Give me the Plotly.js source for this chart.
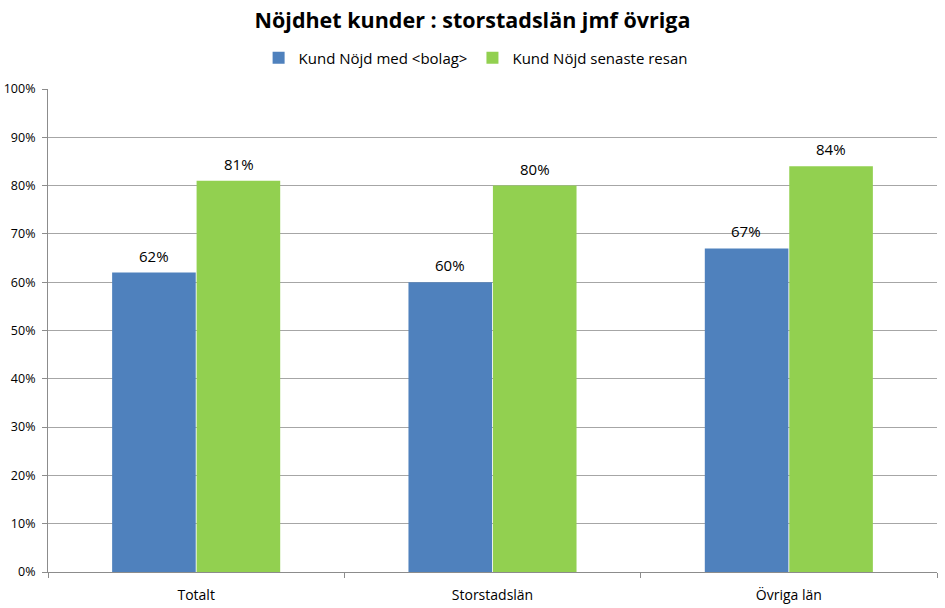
<!DOCTYPE html>
<html>
<head>
<meta charset="utf-8">
<script src="https://cdn.plot.ly/plotly-3.0.1.min.js"></script>
<style>html,body{margin:0;padding:0;background:#fff;}#chart{width:945px;height:608px;}</style>
</head>
<body>
<div id="chart"></div>
<script>
const categories = ["Totalt", "Storstadslän", "Övriga län"];
const seriesNames = ["Kund Nöjd med &lt;bolag&gt;", "Kund Nöjd senaste resan"];
const nojdMedBolag = [0.62, 0.60, 0.67];
const nojdSenasteResan = [0.81, 0.80, 0.84];
const yTickVals = [0, 0.1, 0.2, 0.3, 0.4, 0.5, 0.6, 0.7, 0.8, 0.9, 1.0];
const yTickText = ["0%", "10%", "20%", "30%", "40%", "50%", "60%", "70%", "80%", "90%", "100%"];

const FONT = "Open Sans, Noto Sans, sans-serif";
const colors = ["#4F81BD", "#92D050"];
const seriesValues = [nojdMedBolag, nojdSenasteResan];

function barTrace(name, values, color) {
  return {
    type: "bar",
    name: name,
    x: categories,
    y: values,
    marker: { color: color },
    hoverinfo: "skip"
  };
}

const data = seriesValues.map((v, i) => barTrace(seriesNames[i], v, colors[i]));

// value labels placed above each bar, offset to the bar's slot in the group
const annotations = [];
seriesValues.forEach((vals, si) => {
  vals.forEach((v, ci) => {
    annotations.push({
      x: categories[ci],
      y: v,
      xref: "x",
      yref: "y",
      text: Math.round(v * 100) + "%",
      showarrow: false,
      xanchor: "center",
      yanchor: "bottom",
      xshift: si === 0 ? -42.5 : 42.5,
      yshift: 5,
      font: { family: FONT, size: 15, color: "#000000" }
    });
  });
});

const layout = {
  width: 945,
  height: 608,
  margin: { l: 48, r: 8, t: 89, b: 36 },
  paper_bgcolor: "#ffffff",
  plot_bgcolor: "#ffffff",
  font: { family: FONT, color: "#000000" },
  title: {
    text: "<b>Nöjdhet kunder : storstadslän jmf övriga</b>",
    font: { family: FONT, size: 21.5, color: "#000000" },
    x: 0.5, xanchor: "center",
    y: 1 - 20 / 608, yanchor: "middle", yref: "container"
  },
  showlegend: true,
  legend: {
    orientation: "h",
    x: 0.481, xanchor: "center",
    y: 1 + 31 / 483, yanchor: "middle",
    font: { family: FONT, size: 15, color: "#000000" },
    itemwidth: 30,
    traceorder: "normal"
  },
  annotations: annotations,
  barmode: "group",
  bargap: 0.43,
  bargroupgap: 0.01,
  xaxis: {
    type: "category",
    showline: true,
    linecolor: "#8c8c8c",
    linewidth: 1,
    ticks: "outside",
    tickson: "boundaries",
    ticklen: 5,
    tickcolor: "#8c8c8c",
    showgrid: false,
    ticklabelstandoff: 10,
    tickfont: { family: FONT, size: 14, color: "#000000" }
  },
  yaxis: {
    range: [0, 1],
    tickvals: yTickVals,
    ticktext: yTickText,
    showline: true,
    linecolor: "#8c8c8c",
    linewidth: 1,
    ticks: "outside",
    ticklen: 5,
    tickcolor: "#8c8c8c",
    showgrid: true,
    gridcolor: "#a6a6a6",
    gridwidth: 1,
    zeroline: false,
    ticklabelstandoff: 4,
    tickfont: { family: FONT, size: 12.5, color: "#000000" }
  }
};

Plotly.newPlot("chart", data, layout, { displayModeBar: false, staticPlot: true });
</script>
</body>
</html>
